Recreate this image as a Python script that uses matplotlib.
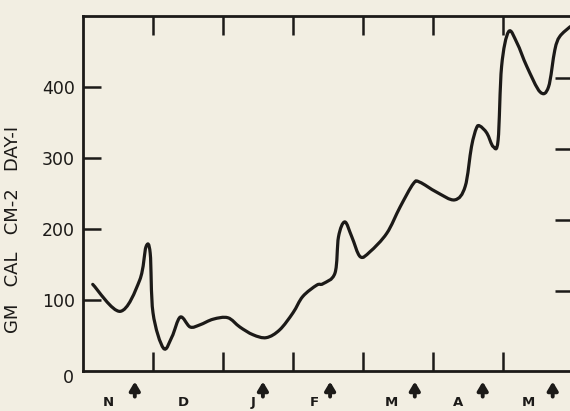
import matplotlib
matplotlib.use("Agg")
import matplotlib.pyplot as plt
from matplotlib.path import Path
from matplotlib.patches import PathPatch
import numpy as np

# x in months from start of November, y in gm cal cm-2 day-1
months_x = [0.139, 0.53, 0.81, 0.90, 0.96, 1.00, 1.15, 1.27, 1.39, 1.53, 1.67, 1.86,
            2.07, 2.24, 2.43, 2.62, 2.81, 3.00, 3.14, 3.34, 3.43, 3.60, 3.65, 3.74,
            3.84, 3.96, 4.10, 4.34, 4.53, 4.72, 4.81, 5.05, 5.31, 5.46, 5.55, 5.62,
            5.67, 5.77, 5.86, 5.93, 5.98, 6.08, 6.20, 6.34, 6.53, 6.65, 6.74, 6.81, 6.96]
energy = [122, 84, 128, 175, 166, 82, 32, 48, 76, 62, 65, 73,
          75, 62, 51, 47, 58, 82, 105, 121, 123, 138, 189, 210,
          189, 161, 168, 194, 231, 264, 266, 252, 241, 260, 316, 342,
          345, 335, 316, 325, 429, 478, 462, 429, 393, 400, 452, 471, 485]

month_labels = ["N", "D", "J", "F", "M", "A", "M"]
month_label_x = [0.36, 1.43, 2.43, 3.31, 4.41, 5.36, 6.36]
arrow_x = [0.74, 2.57, 3.53, 4.74, 5.71, 6.71]
y_ticks = [100, 200, 300, 400]
ylabel = "GM   CAL   CM-2   DAY-I"

bg = "#f2eee2"
ink = "#1c1a18"

fig = plt.figure(figsize=(5.7, 4.11), dpi=100, facecolor=bg)
ax = fig.add_axes([83/570, 40/411, 490/570, 355/411])
ax.set_facecolor(bg)
ax.set_xlim(0, 7)
ax.set_ylim(0, 500)

for s in ax.spines.values():
    s.set_linewidth(2.0)
    s.set_color(ink)

# smooth curve via Catmull-Rom -> cubic Bezier path
P = np.column_stack([months_x, energy]).astype(float)
n = len(P)
verts = [P[0]]
codes = [Path.MOVETO]
for i in range(n - 1):
    p0 = P[i - 1] if i > 0 else P[i]
    p1 = P[i]
    p2 = P[i + 1]
    p3 = P[i + 2] if i + 2 < n else P[i + 1]
    c1 = p1 + (p2 - p0) / 6.0
    c2 = p2 - (p3 - p1) / 6.0
    verts += [c1, c2, p2]
    codes += [Path.CURVE4] * 3
patch = PathPatch(Path(verts, codes), facecolor="none", edgecolor=ink,
                  linewidth=2.3, capstyle="round", joinstyle="round")
ax.add_patch(patch)

# ticks
ax.set_xticks(range(1, 7))
ax.set_xticklabels([])
ax.tick_params(axis="x", which="both", direction="in", length=14, width=1.8,
               color=ink, top=True, bottom=True, labelbottom=False)
ax.set_yticks(y_ticks)
ax.set_yticklabels([str(v) for v in y_ticks])
ax.tick_params(axis="y", direction="in", length=13, width=1.8, color=ink,
               labelsize=12.5, labelcolor=ink, pad=6, right=False)
ax.text(-0.018, -0.02, "0", transform=ax.transAxes, ha="right", va="center",
        fontsize=12.5, color=ink)

ax2 = ax.twinx()
ax2.set_ylim(-12, 488)
ax2.set_yticks(y_ticks)
ax2.set_yticklabels([])
ax2.tick_params(axis="y", direction="in", length=13, width=1.8, color=ink)
for s in ax2.spines.values():
    s.set_visible(False)

ax.set_ylabel(ylabel, fontsize=13, color=ink)
ax.yaxis.set_label_coords(-0.125, 0.40)

# month labels and arrows
tr = ax.get_xaxis_transform()
for lab, xv in zip(month_labels, month_label_x):
    ax.text(xv, -0.09, lab, transform=tr, ha="center", va="center",
            fontsize=9.5, fontweight="bold", color=ink, clip_on=False)
for xv in arrow_x:
    ax.annotate("", xy=(xv, -0.022), xytext=(xv, -0.08), xycoords=tr, textcoords=tr,
                arrowprops=dict(arrowstyle="-|>,head_width=0.3,head_length=0.5",
                                color=ink, lw=2.8), annotation_clip=False)

fig.savefig("out.png", dpi=100, facecolor=bg)
